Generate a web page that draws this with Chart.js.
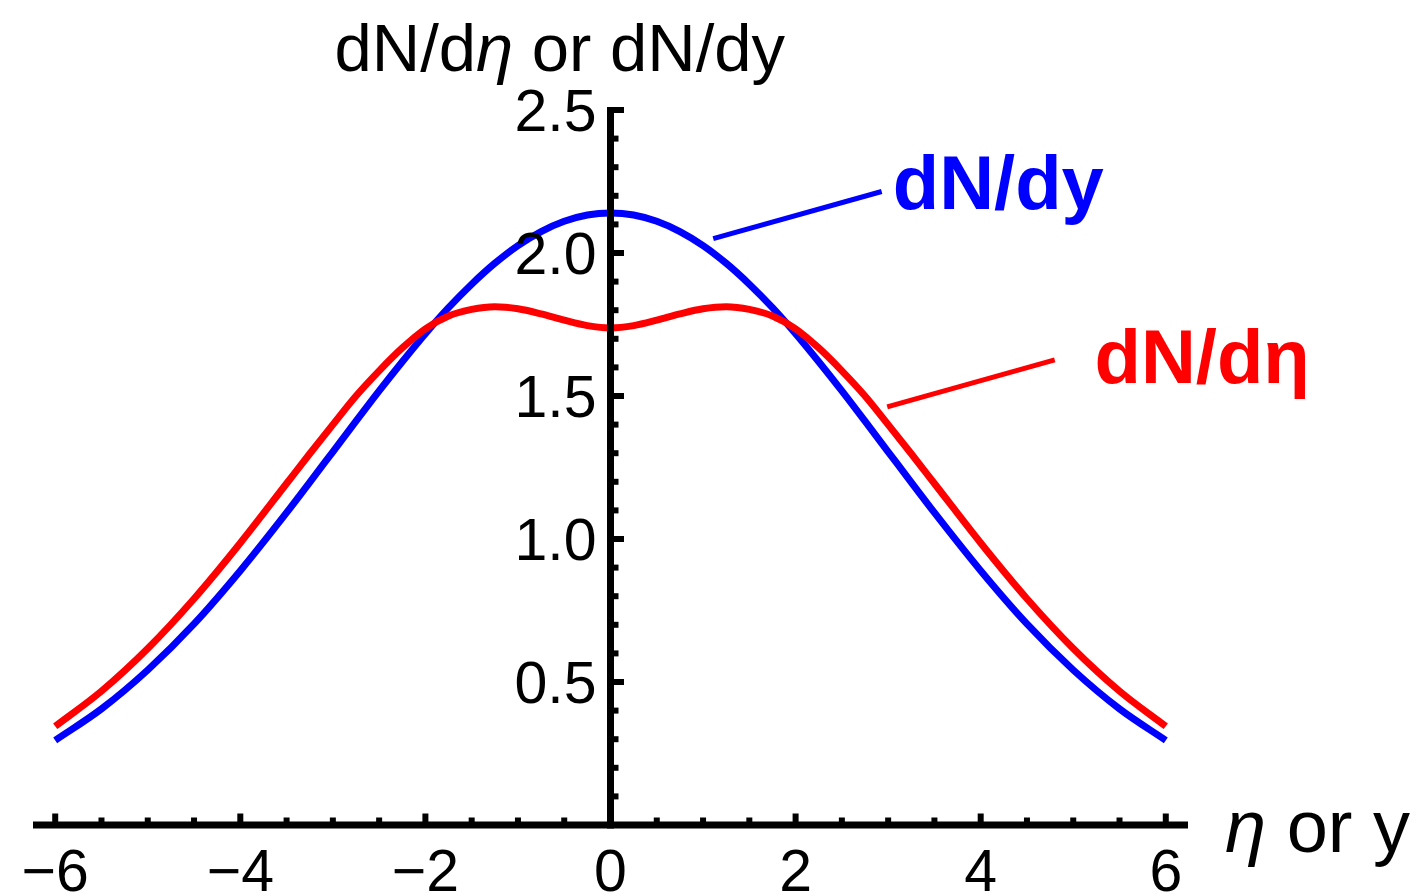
<!DOCTYPE html>
<html>
<head>
<meta charset="utf-8">
<title>dN/dη or dN/dy</title>
<script src="https://cdn.jsdelivr.net/npm/chart.js"></script>
<style>
  html, body { margin: 0; padding: 0; background: #fff; }
  canvas { display: block; }
</style>
</head>
<body>
<canvas id="chart" width="1419" height="895"></canvas>
<script>
// Data
const etaGrid = [-6, -5.5, -5, -4.5, -4, -3.5, -3.25, -3, -2.75, -2.5, -2.25, -2, -1.75, -1.5, -1.25, -1, -0.75, -0.5, -0.25,
  0, 0.25, 0.5, 0.75, 1, 1.25, 1.5, 1.75, 2, 2.25, 2.5, 2.75, 3, 3.25, 3.5, 4, 4.5, 5, 5.5, 6];
const dNdy = [0.296, 0.406, 0.542, 0.703, 0.889, 1.092, 1.198, 1.305, 1.412, 1.518, 1.620, 1.718, 1.809, 1.891, 1.964, 2.026, 2.075, 2.111, 2.133,
  2.140, 2.133, 2.111, 2.075, 2.026, 1.964, 1.891, 1.809, 1.718, 1.620, 1.518, 1.412, 1.305, 1.198, 1.092, 0.889, 0.703, 0.542, 0.406, 0.296];
const dNdeta = [0.345, 0.468, 0.617, 0.791, 0.986, 1.194, 1.298, 1.400, 1.500, 1.588, 1.668, 1.735, 1.780, 1.803, 1.812, 1.805, 1.787, 1.765, 1.746,
  1.738, 1.746, 1.765, 1.787, 1.805, 1.812, 1.803, 1.780, 1.735, 1.668, 1.588, 1.500, 1.400, 1.298, 1.194, 0.986, 0.791, 0.617, 0.468, 0.345];

const xTickValues = [-6, -4, -2, 0, 2, 4, 6];
const xTickLabels = ['\u22126', '\u22124', '\u22122', '0', '2', '4', '6'];
const yTickValues = [0.5, 1.0, 1.5, 2.0, 2.5];
const yTickLabels = ['0.5', '1.0', '1.5', '2.0', '2.5'];

const FONT = '"Liberation Sans", Arial, Helvetica, sans-serif';

// Callout lines and labels (data coordinates)
const callouts = [
  { text: 'dN/dy', color: '#0000ff', from: [1.11, 2.05], to: [2.93, 2.215], label: [3.05, 2.155] },
  { text: 'dN/d\u03b7', color: '#ff0000', from: [2.99, 1.462], to: [4.80, 1.626], label: [5.23, 1.546] }
];

// Draw text pieces in a row, some italic
function drawRuns(ctx, runs, x, y, size) {
  let cx = x;
  runs.forEach(([txt, italic]) => {
    ctx.font = (italic ? 'italic ' : '') + size + 'px ' + FONT;
    ctx.fillText(txt, cx, y);
    cx += ctx.measureText(txt).width;
  });
}

const axesPlugin = {
  id: 'crossAxes',
  afterDatasetsDraw(chart) {
    const { ctx, scales: { x, y } } = chart;
    const x0 = x.getPixelForValue(0);
    const y0 = y.getPixelForValue(0);
    const yTop = y.getPixelForValue(2.5);

    ctx.save();
    ctx.strokeStyle = '#000';
    ctx.fillStyle = '#000';
    ctx.lineCap = 'butt';

    // axis lines
    ctx.lineWidth = 7;
    ctx.beginPath();
    ctx.moveTo(x.left, y0);
    ctx.lineTo(x.right, y0);
    ctx.stroke();
    ctx.beginPath();
    ctx.moveTo(x0, y0 + 3.5);
    ctx.lineTo(x0, yTop - 3);
    ctx.stroke();

    // x ticks (major every 2, minor every 0.5)
    ctx.lineWidth = 6;
    for (let k = -12; k <= 12; k++) {
      const px = x.getPixelForValue(k / 2);
      const len = k % 4 === 0 ? 8 : 4;
      ctx.beginPath();
      ctx.moveTo(px, y0);
      ctx.lineTo(px, y0 - 3.5 - len);
      ctx.stroke();
    }
    // y ticks (major every 0.5, minor every 0.1)
    for (let k = 1; k <= 25; k++) {
      const py = y.getPixelForValue(k / 10);
      const len = k % 5 === 0 ? 10 : 4.5;
      ctx.beginPath();
      ctx.moveTo(x0, py);
      ctx.lineTo(x0 + 3.5 + len, py);
      ctx.stroke();
    }

    // tick labels
    ctx.font = '59px ' + FONT;
    ctx.textBaseline = 'alphabetic';
    ctx.textAlign = 'center';
    xTickValues.forEach((v, i) => {
      ctx.fillText(xTickLabels[i], x.getPixelForValue(v), y0 + 66);
    });
    ctx.textAlign = 'right';
    yTickValues.forEach((v, i) => {
      ctx.fillText(yTickLabels[i], x0 - 14, y.getPixelForValue(v) + 21);
    });

    // axis titles
    ctx.textAlign = 'left';
    drawRuns(ctx, [['dN/d', false], ['\u03b7', true], [' or dN/dy', false]], x0 - 276, 71, 67);
    drawRuns(ctx, [['\u03b7', true], [' or y', false]], x.right + 37, y0 + 27, 74);

    // callouts
    callouts.forEach(c => {
      ctx.strokeStyle = c.color;
      ctx.fillStyle = c.color;
      ctx.lineWidth = 5;
      ctx.beginPath();
      ctx.moveTo(x.getPixelForValue(c.from[0]), y.getPixelForValue(c.from[1]));
      ctx.lineTo(x.getPixelForValue(c.to[0]), y.getPixelForValue(c.to[1]));
      ctx.stroke();
      ctx.font = 'bold 76px ' + FONT;
      ctx.fillText(c.text, x.getPixelForValue(c.label[0]), y.getPixelForValue(c.label[1]));
    });

    ctx.restore();
  }
};

const toPoints = vals => etaGrid.map((e, i) => ({ x: e, y: vals[i] }));

new Chart(document.getElementById('chart'), {
  type: 'line',
  data: {
    datasets: [
      {
        label: 'dN/dη',
        data: toPoints(dNdeta),
        borderColor: '#ff0000',
        borderWidth: 7,
        pointRadius: 0,
        cubicInterpolationMode: 'monotone',
        fill: false
      },
      {
        label: 'dN/dy',
        data: toPoints(dNdy),
        borderColor: '#0000ff',
        borderWidth: 7,
        pointRadius: 0,
        cubicInterpolationMode: 'monotone',
        fill: false
      }
    ]
  },
  options: {
    responsive: false,
    animation: false,
    clip: false,
    layout: { padding: { left: 33, right: 231, top: 110, bottom: 70 } },
    plugins: {
      legend: { display: false },
      tooltip: { enabled: false }
    },
    scales: {
      x: { type: 'linear', min: -6.24, max: 6.24, display: false },
      y: { type: 'linear', min: 0, max: 2.5, display: false }
    }
  },
  plugins: [axesPlugin]
});
</script>
</body>
</html>
